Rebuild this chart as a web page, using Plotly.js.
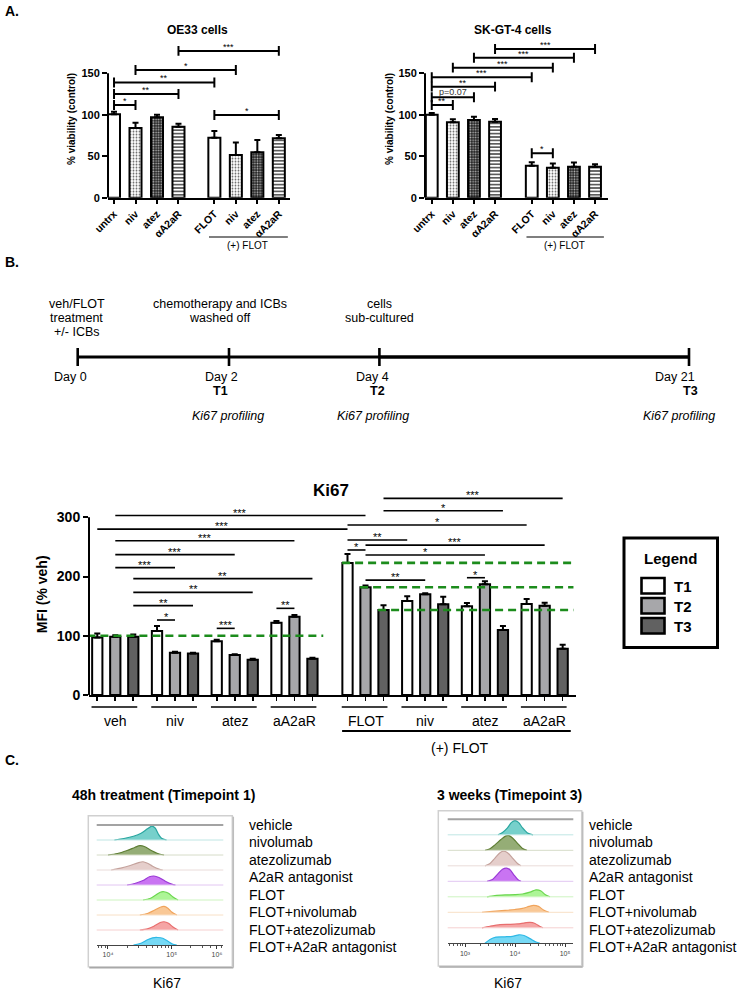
<!DOCTYPE html>
<html><head><meta charset="utf-8">
<script src="https://cdn.plot.ly/plotly-3.0.1.min.js"></script>
<style>html,body{margin:0;padding:0;background:#fff}#chart{width:749px;height:993px}</style>
</head><body><div id="chart"></div>
<script>
// ================= DATA =================
// Panel A: viability
const aCategories = ['untrx', 'niv', 'atez', 'αA2aR', 'FLOT', 'niv', 'atez', 'αA2aR'];
const oe33Values = [100.5, 84, 97, 85.5, 72.4, 51.5, 54.7, 71.6];
const oe33Errors = [3, 6.5, 3, 3.7, 8, 15, 15, 4];
const skgt4Values = [100, 90.9, 93.7, 91.7, 38.6, 36.2, 37.4, 37.4];
const skgt4Errors = [2, 3.6, 4, 3.2, 4, 5, 5, 3];
const oe33SigFrom = [0, 0, 0, 1, 3, 4];
const oe33SigTo = [1, 3, 4, 5, 7, 7];
const oe33SigY = [111.8, 125, 139, 154, 177, 99.7];
const oe33SigText = ['*', '**', '**', '*', '***', '*'];
const skgt4SigFrom = [0, 0, 0, 0, 1, 2, 3, 4];
const skgt4SigTo = [1, 2, 3, 4, 5, 6, 7, 5];
const skgt4SigY = [111.8, 121, 133.9, 145.2, 156.8, 168.8, 179.3, 53.5];
const skgt4SigText = ['**', 'p=0.07', '**', '***', '***', '***', '***', '*'];

// Panel B: timeline
const timelineDays = ['Day 0', 'Day 2', 'Day 4', 'Day 21'];
const timelinePoints = ['', 'T1', 'T2', 'T3'];
const timelineProfiling = ['', 'Ki67 profiling', 'Ki67 profiling', 'Ki67 profiling'];
const timelineEvents = [['veh/FLOT', 'treatment', '+/- ICBs'], ['chemotherapy and ICBs', 'washed off'], ['cells', 'sub-cultured'], []];

// Panel B: Ki67 MFI
const ki67Groups = ['veh', 'niv', 'atez', 'aA2aR', 'FLOT', 'niv', 'atez', 'aA2aR'];
const timepoints = ['T1', 'T2', 'T3'];
const ki67T1 = [97, 108, 90.6, 122, 223, 158.7, 150, 153.6];
const ki67T1Err = [7, 8.5, 2.8, 3, 15, 8, 5.3, 8.4];
const ki67T2 = [98.5, 71.5, 67.5, 132, 181.8, 170, 186.8, 150.8];
const ki67T2Err = [2.2, 1.5, 1.5, 3, 3.2, 1.6, 5.2, 5.1];
const ki67T3 = [98.5, 70, 59.6, 61.3, 143.5, 153, 109.7, 78];
const ki67T3Err = [3.5, 1.5, 1.7, 1.7, 7.9, 13, 6.8, 7];
const ki67RefY = [100, 223, 181.8, 143.5];
const ki67RefGroup = [0, 4, 4, 4];
const ki67RefTime = [0, 0, 1, 2];
const ki67SigFromGroup = [0, 0, 0, 0, 0, 0, 0, 0, 1, 2, 3, 4, 4, 4, 4, 4, 4, 4, 4, 6];
const ki67SigFromTime  = [1, 0, 1, 1, 1, 2, 2, 2, 0, 0, 0, 2, 2, 0, 0, 0, 1, 1, 1, 0];
const ki67SigToGroup   = [4, 4, 3, 2, 1, 3, 2, 1, 1, 2, 3, 7, 6, 7, 5, 4, 7, 6, 5, 6];
const ki67SigToTime    = [1, 0, 1, 1, 1, 2, 2, 2, 1, 1, 1, 2, 2, 0, 0, 1, 1, 1, 1, 1];
const ki67SigY = [303, 280, 260.5, 237, 215, 196.4, 173.3, 150.8, 126.6, 112.5, 146.3, 332, 311, 287, 261.7, 244.8, 253, 236.3, 194, 198];
const ki67SigText = ['***', '***', '***', '***', '***', '**', '**', '**', '*', '***', '**', '***', '*', '*', '**', '*', '***', '*', '**', '*'];

// Panel C: Ki67 histograms (x = log10 intensity, h = height as fraction of a row)
const histLabels = ['vehicle', 'nivolumab', 'atezolizumab', 'A2aR antagonist', 'FLOT', 'FLOT+nivolumab', 'FLOT+atezolizumab', 'FLOT+A2aR antagonist'];
const histLine = ['#2aa6a0', '#5e7e34', '#c4a29c', '#9a3ad6', '#6bd64f', '#f0a45c', '#e86e6e', '#2fb9e6'];
const histFill = ['rgba(84,196,190,0.8)', 'rgba(122,152,84,0.8)', 'rgba(224,198,194,0.85)', 'rgba(192,92,240,0.85)', 'rgba(146,242,116,0.75)', 'rgba(248,186,124,0.8)', 'rgba(242,142,142,0.8)', 'rgba(84,208,242,0.8)'];
const histBase = ['#bfe6e4', '#d6dcc8', '#eadcda', '#e2c6f2', '#cdf4c0', '#f8e0c6', '#f6d0d0', '#c4ecf8'];
const t1X = [
  [4.10, 4.25, 4.40, 4.52, 4.62, 4.69, 4.74, 4.79, 4.84, 4.92],
  [4.00, 4.15, 4.30, 4.42, 4.50, 4.58, 4.68, 4.78, 4.88],
  [4.05, 4.20, 4.35, 4.47, 4.55, 4.62, 4.70, 4.80, 4.86],
  [4.30, 4.42, 4.55, 4.65, 4.72, 4.80, 4.90, 5.00, 5.06],
  [4.55, 4.66, 4.74, 4.82, 4.88, 4.95, 5.02, 5.10],
  [4.50, 4.62, 4.72, 4.82, 4.88, 4.94, 5.00, 5.08],
  [4.50, 4.62, 4.72, 4.82, 4.88, 4.95, 5.02, 5.10],
  [4.40, 4.52, 4.62, 4.70, 4.78, 4.86, 4.94, 5.02, 5.08]
];
const t1H = [
  [0, 0.10, 0.25, 0.45, 0.75, 0.93, 0.80, 0.40, 0.12, 0],
  [0, 0.10, 0.30, 0.50, 0.62, 0.55, 0.30, 0.10, 0],
  [0, 0.12, 0.30, 0.48, 0.55, 0.45, 0.25, 0.06, 0],
  [0, 0.10, 0.30, 0.55, 0.60, 0.50, 0.25, 0.06, 0],
  [0, 0.10, 0.30, 0.52, 0.55, 0.45, 0.20, 0],
  [0, 0.10, 0.30, 0.52, 0.57, 0.45, 0.20, 0],
  [0, 0.08, 0.25, 0.50, 0.55, 0.45, 0.20, 0],
  [0, 0.12, 0.35, 0.48, 0.50, 0.45, 0.25, 0.05, 0]
];
const t3X = [
  [3.66, 3.75, 3.85, 3.93, 4.00, 4.07, 4.15, 4.25, 4.36],
  [3.40, 3.50, 3.60, 3.72, 3.82, 3.88, 3.95, 4.05, 4.15, 4.24],
  [3.40, 3.50, 3.60, 3.70, 3.77, 3.85, 3.95, 4.05, 4.12],
  [3.44, 3.55, 3.65, 3.75, 3.83, 3.90, 3.98, 4.06, 4.12],
  [3.44, 3.60, 3.80, 4.00, 4.15, 4.30, 4.42, 4.52, 4.60, 4.70],
  [3.34, 3.55, 3.80, 4.00, 4.15, 4.28, 4.37, 4.47, 4.57, 4.68],
  [3.34, 3.50, 3.70, 3.90, 4.05, 4.20, 4.30, 4.40, 4.50, 4.56],
  [3.40, 3.50, 3.62, 3.80, 3.95, 4.08, 4.18, 4.30, 4.42, 4.50]
];
const t3H = [
  [0, 0.15, 0.45, 0.80, 0.92, 0.80, 0.45, 0.12, 0],
  [0, 0.10, 0.35, 0.70, 0.93, 0.95, 0.80, 0.45, 0.12, 0],
  [0, 0.15, 0.50, 0.85, 0.95, 0.85, 0.50, 0.15, 0],
  [0, 0.12, 0.45, 0.78, 0.85, 0.75, 0.40, 0.10, 0],
  [0, 0.08, 0.12, 0.14, 0.18, 0.30, 0.45, 0.38, 0.15, 0],
  [0, 0.06, 0.12, 0.18, 0.25, 0.38, 0.45, 0.38, 0.15, 0],
  [0, 0.10, 0.20, 0.22, 0.25, 0.32, 0.35, 0.28, 0.08, 0],
  [0, 0.25, 0.40, 0.42, 0.45, 0.55, 0.50, 0.30, 0.08, 0]
];
const t1TickText = ['10⁴', '10⁵', '10⁶'];
const t3TickText = ['10³', '10⁴', '10⁵'];

// ================= DRAWING =================
const W = 749, H = 993;
const FONT = 'Liberation Sans, Arial, Helvetica, sans-serif';
const PX = x => x / W;
const PY = y => 1 - y / H;
const traces = [], shapes = [], annotations = [];
function ann(o, font) {
  annotations.push(Object.assign({showarrow: false, xanchor: 'center', yanchor: 'middle',
    font: Object.assign({family: FONT, size: 12, color: '#000'}, font || {})}, o));
}
function pline(x0, y0, x1, y1, w, c) {
  shapes.push({type: 'line', xref: 'paper', yref: 'paper', x0: PX(x0), y0: PY(y0), x1: PX(x1), y1: PY(y1),
    line: {color: c || '#000', width: w}});
}

// ---------- Panel A ----------
function panelA(xid, yid, values, errors, gapShift, sFrom, sTo, sY, sText) {
  const pos = i => i + (i >= 4 ? gapShift : 0);
  const styles = [
    null,
    {shape: '.', fgcolor: '#6a6a6a', bgcolor: '#ffffff', size: 3, solidity: 0.3},
    {shape: '.', fgcolor: '#b8b8b8', bgcolor: '#202020', size: 2.6, solidity: 0.35},
    {shape: '-', fgcolor: '#4a4a4a', bgcolor: '#ffffff', size: 3.4, solidity: 0.45}
  ];
  for (let p = 0; p < 4; p++) {
    const idx = [p, p + 4];
    const marker = {color: '#ffffff', line: {color: '#000', width: 2}};
    if (styles[p]) marker.pattern = Object.assign({fillmode: 'replace'}, styles[p]);
    traces.push({type: 'bar', xaxis: xid, yaxis: yid, x: idx.map(pos), y: idx.map(i => values[i]),
      width: 0.56, marker: marker, name: aCategories[p],
      error_y: {type: 'data', symmetric: false, array: idx.map(i => errors[i]), arrayminus: [0, 0],
        color: '#000', thickness: 2, width: 3},
      hoverinfo: 'skip', showlegend: false});
  }
  for (let k = 0; k < sFrom.length; k++) {
    const xa = pos(sFrom[k]), xb = pos(sTo[k]), y = sY[k];
    const common = {xref: xid, yref: yid, line: {color: '#000', width: 2}};
    shapes.push(Object.assign({type: 'line', x0: xa, x1: xb, y0: y, y1: y}, common));
    shapes.push(Object.assign({type: 'line', x0: xa, x1: xa, y0: y - 6, y1: y + 6}, common));
    shapes.push(Object.assign({type: 'line', x0: xb, x1: xb, y0: y - 6, y1: y + 6}, common));
    const isP = sText[k].indexOf('p') === 0;
    ann({xref: xid, yref: yid, x: (xa + xb) / 2, y: y, text: sText[k], yanchor: 'bottom', yshift: isP ? -2 : -3},
        {size: 9, color: isP ? '#333' : '#000'});
  }
  shapes.push({type: 'line', xref: xid + ' domain', yref: yid, x0: 0, x1: 0, y0: 0, y1: 150,
    line: {color: '#000', width: 2}});
  shapes.push({type: 'line', xref: xid, yref: 'paper', x0: pos(4) - 0.25, x1: pos(7) + 0.42, y0: PY(237), y1: PY(237),
    line: {color: '#000', width: 1.2}});
  ann({xref: xid, yref: 'paper', x: (pos(4) + pos(7)) / 2 + 0.05, y: PY(245), text: '(+) FLOT'}, {size: 10});
  return pos;
}
const posL = panelA('x', 'y', oe33Values, oe33Errors, 0.67, oe33SigFrom, oe33SigTo, oe33SigY, oe33SigText);
const posR = panelA('x2', 'y2', skgt4Values, skgt4Errors, 0.74, skgt4SigFrom, skgt4SigTo, skgt4SigY, skgt4SigText);

ann({xref: 'paper', yref: 'paper', x: PX(3), y: PY(11), text: '<b>A.</b>', xanchor: 'left'}, {size: 14});
ann({xref: 'paper', yref: 'paper', x: PX(197), y: PY(30), text: '<b>OE33 cells</b>'}, {size: 12});
ann({xref: 'paper', yref: 'paper', x: PX(513), y: PY(30), text: '<b>SK-GT-4 cells</b>'}, {size: 12});

// ---------- Panel B timeline ----------
ann({xref: 'paper', yref: 'paper', x: PX(3), y: PY(262), text: '<b>B.</b>', xanchor: 'left'}, {size: 14});
const tlTickX = [77.7, 229, 379.4, 689];
const tlY = 357;
pline(tlTickX[0], tlY, tlTickX[2], tlY, 3);
pline(tlTickX[2], tlY, tlTickX[3], tlY, 3.6);
tlTickX.forEach(x => pline(x, tlY - 9, x, tlY + 9, 2.6));
const tlDayX = [70, 221.5, 372, 674.5];
const tlTX = [0, 220, 378, 690];
const tlProfX = [0, 228, 373, 679];
const tlEventX = [76.7, 220, 379.4, 0];
for (let i = 0; i < 4; i++) {
  ann({xref: 'paper', yref: 'paper', x: PX(tlDayX[i]), y: PY(377.5), text: timelineDays[i]}, {size: 12.5});
  if (timelinePoints[i]) ann({xref: 'paper', yref: 'paper', x: PX(tlTX[i]), y: PY(391), text: '<b>' + timelinePoints[i] + '</b>'}, {size: 12.5});
  if (timelineProfiling[i]) ann({xref: 'paper', yref: 'paper', x: PX(tlProfX[i]), y: PY(416), text: '<i>' + timelineProfiling[i] + '</i>'}, {size: 12.5});
  timelineEvents[i].forEach((line, j) => ann({xref: 'paper', yref: 'paper', x: PX(tlEventX[i]), y: PY(304 + j * 13.8), text: line}, {size: 12.5}));
}

// ---------- Panel B Ki67 bars ----------
const GSTEP = 3.317, GGAP = 0.63;
const kpos = (g, t) => g * GSTEP + (g >= 4 ? GGAP : 0) + (t - 1);
const kVals = [ki67T1, ki67T2, ki67T3];
const kErrs = [ki67T1Err, ki67T2Err, ki67T3Err];
const kColors = ['#ffffff', '#a7a7aa', '#616161'];
for (let t = 0; t < 3; t++) {
  traces.push({type: 'bar', xaxis: 'x3', yaxis: 'y3', name: timepoints[t],
    x: ki67Groups.map((_, g) => kpos(g, t)), y: kVals[t], width: 0.57,
    marker: {color: kColors[t], line: {color: '#000', width: 2}},
    error_y: {type: 'data', symmetric: false, array: kErrs[t], arrayminus: kErrs[t].map(() => 0), color: '#000', thickness: 2, width: 3},
    hoverinfo: 'skip', showlegend: false});
}
for (let r = 0; r < ki67RefY.length; r++) {
  const x0 = kpos(ki67RefGroup[r], ki67RefTime[r]) - (ki67RefGroup[r] === 0 ? 0.55 : 0.3);
  const x1 = ki67RefGroup[r] === 0 ? kpos(3, 2) + 0.6 : kpos(7, 2) + 0.6;
  traces.push({type: 'scatter', mode: 'lines', xaxis: 'x3', yaxis: 'y3', x: [x0, x1], y: [ki67RefY[r], ki67RefY[r]],
    line: {color: '#1c8c1c', width: 2.6, dash: '8px,5px'}, hoverinfo: 'skip', showlegend: false});
}
for (let k = 0; k < ki67SigY.length; k++) {
  const xa = kpos(ki67SigFromGroup[k], ki67SigFromTime[k]);
  const xb = kpos(ki67SigToGroup[k], ki67SigToTime[k]);
  shapes.push({type: 'line', xref: 'x3', yref: 'y3', x0: xa, x1: xb, y0: ki67SigY[k], y1: ki67SigY[k], line: {color: '#000', width: 1.6}});
  ann({xref: 'x3', yref: 'y3', x: (xa + xb) / 2, y: ki67SigY[k], text: ki67SigText[k], yanchor: 'bottom', yshift: -5}, {size: 11});
}
shapes.push({type: 'line', xref: 'x3 domain', yref: 'y3', x0: 0, x1: 0, y0: 0, y1: 300, line: {color: '#000', width: 2}});
for (let g = 0; g < ki67Groups.length; g++) {
  shapes.push({type: 'line', xref: 'x3', yref: 'paper', x0: kpos(g, 0) - 0.32, x1: kpos(g, 2) + 0.22, y0: PY(707), y1: PY(707), line: {color: '#000', width: 1.6}});
  ann({xref: 'x3', yref: 'paper', x: kpos(g, 1), y: PY(721), text: ki67Groups[g]}, {size: 14});
}
shapes.push({type: 'line', xref: 'x3', yref: 'paper', x0: kpos(4, 0) - 0.3, x1: kpos(7, 2) + 0.45, y0: PY(731), y1: PY(731), line: {color: '#000', width: 2}});
ann({xref: 'x3', yref: 'paper', x: (kpos(4, 0) + kpos(7, 2)) / 2 + 0.3, y: PY(748), text: '(+) FLOT'}, {size: 14});
ann({xref: 'paper', yref: 'paper', x: PX(331), y: PY(490), text: '<b>Ki67</b>'}, {size: 17});

// manual legend
shapes.push({type: 'rect', xref: 'paper', yref: 'paper', x0: PX(624), x1: PX(717.5), y0: PY(538), y1: PY(647.5), line: {color: '#000', width: 3}, fillcolor: 'rgba(0,0,0,0)'});
ann({xref: 'paper', yref: 'paper', x: PX(670), y: PY(558), text: '<b>Legend</b>'}, {size: 15});
const legTop = [578, 598, 618];
for (let t = 0; t < 3; t++) {
  shapes.push({type: 'rect', xref: 'paper', yref: 'paper', x0: PX(641.5), x1: PX(664.5), y0: PY(legTop[t]), y1: PY(legTop[t] + 15.5),
    line: {color: '#000', width: 2.6}, fillcolor: kColors[t]});
  ann({xref: 'paper', yref: 'paper', x: PX(672), y: PY(legTop[t] + 8), text: '<b>' + timepoints[t] + '</b>', xanchor: 'left'}, {size: 15});
}

// ---------- Panel C histograms ----------
ann({xref: 'paper', yref: 'paper', x: PX(3), y: PY(760), text: '<b>C.</b>', xanchor: 'left'}, {size: 14});
ann({xref: 'paper', yref: 'paper', x: PX(163), y: PY(795), text: '<b>48h treatment (Timepoint 1)</b>'}, {size: 14});
ann({xref: 'paper', yref: 'paper', x: PX(510), y: PY(795), text: '<b>3 weeks (Timepoint 3)</b>'}, {size: 14});
function histPanel(xid, yid, X, Hh, box, labelX, kiX) {
  shapes.push({type: 'rect', xref: 'paper', yref: 'paper', x0: PX(box[0]), x1: PX(box[2]), y0: PY(box[1]), y1: PY(box[3]),
    line: {color: '#d0d0d0', width: 1.5}, fillcolor: 'rgba(0,0,0,0)'});
  pline(box[0] + 1, box[3] + 1, box[2] + 1, box[3] + 1, 1.5, '#a8a8a8');
  pline(box[2] + 1, box[1] + 1, box[2] + 1, box[3] + 1, 1.5, '#bdbdbd');
  shapes.push({type: 'line', xref: xid + ' domain', yref: yid, x0: 0, x1: 1, y0: 8, y1: 8, line: {color: '#a3a3a3', width: 2}});
  for (let i = 0; i < histLabels.length; i++) {
    const base = 7 - i;
    if (i < 7) shapes.push({type: 'line', xref: xid + ' domain', yref: yid, x0: 0, x1: 1, y0: base, y1: base, line: {color: histBase[i], width: 1}});
    traces.push({type: 'scatter', mode: 'lines', xaxis: xid, yaxis: yid, x: X[i], y: Hh[i].map(h => base + h),
      fill: 'toself', fillcolor: histFill[i], line: {color: histLine[i], width: 1.2, shape: 'spline', smoothing: 0.8},
      name: histLabels[i], hoverinfo: 'skip', showlegend: false});
    ann({xref: 'paper', yref: 'paper', x: PX(labelX), y: PY(825 + i * 17.45), text: histLabels[i], xanchor: 'left'}, {size: 14});
  }
  ann({xref: 'paper', yref: 'paper', x: PX(kiX), y: PY(982.5), text: 'Ki67'}, {size: 14});
}
histPanel('x4', 'y4', t1X, t1H, [88.3, 815.7, 232.3, 966.7], 246.5, 166.7);
histPanel('x5', 'y5', t3X, t3H, [438.3, 810.7, 581.7, 966], 587.3, 508);
function minorLogTicks(lo, hi) {
  const v = [];
  for (let d = 2; d <= 6; d++) for (let m = 2; m <= 9; m++) { const t = d + Math.log10(m); if (t > lo && t < hi) v.push(t); }
  return v;
}

// ================= LAYOUT =================
const axBase = {showgrid: false, zeroline: false, fixedrange: true};
const boldFont = s => ({family: FONT, size: s, color: '#000', weight: 'bold'});
const layout = {
  width: W, height: H, margin: {l: 0, r: 0, t: 0, b: 0, pad: 0},
  paper_bgcolor: '#ffffff', plot_bgcolor: 'rgba(0,0,0,0)', showlegend: false,
  barmode: 'overlay', font: {family: FONT, color: '#000'},
  xaxis: Object.assign({}, axBase, {domain: [PX(108), PX(290)], range: [-0.28, 8.19], anchor: 'y',
    tickmode: 'array', tickvals: aCategories.map((_, i) => posL(i)), ticktext: aCategories, tickangle: -45,
    tickfont: boldFont(10.5), ticks: 'outside', ticklen: 4, tickwidth: 2, tickcolor: '#000',
    showline: true, linewidth: 2, linecolor: '#000'}),
  yaxis: Object.assign({}, axBase, {domain: [PY(197.7), PY(40.1)], range: [0, 190], anchor: 'x',
    tickmode: 'array', tickvals: [0, 50, 100, 150], ticks: 'outside', ticklen: 5, tickwidth: 2, tickcolor: '#000',
    tickfont: boldFont(11), showline: false, title: {text: '% viability (control)', font: boldFont(10), standoff: 3}}),
  xaxis2: Object.assign({}, axBase, {domain: [PX(425), PX(607.7)], range: [-0.32, 8.34], anchor: 'y2',
    tickmode: 'array', tickvals: aCategories.map((_, i) => posR(i)), ticktext: aCategories, tickangle: -45,
    tickfont: boldFont(10.5), ticks: 'outside', ticklen: 4, tickwidth: 2, tickcolor: '#000',
    showline: true, linewidth: 2, linecolor: '#000'}),
  yaxis2: Object.assign({}, axBase, {domain: [PY(197.7), PY(40.1)], range: [0, 190], anchor: 'x2',
    tickmode: 'array', tickvals: [0, 50, 100, 150], ticks: 'outside', ticklen: 5, tickwidth: 2, tickcolor: '#000',
    tickfont: boldFont(11), showline: false, title: {text: '% viability (control)', font: boldFont(10), standoff: 2}}),
  xaxis3: Object.assign({}, axBase, {domain: [PX(89), PX(576)], range: [-1.46, 25.59], anchor: 'y3',
    tickmode: 'array', tickvals: [].concat(...ki67Groups.map((_, g) => [0, 1, 2].map(t => kpos(g, t)))),
    showticklabels: false, ticks: 'outside', ticklen: 4, tickwidth: 1.6, tickcolor: '#000',
    showline: true, linewidth: 2, linecolor: '#000'}),
  yaxis3: Object.assign({}, axBase, {domain: [PY(695), PY(493.6)], range: [0, 340], anchor: 'x3',
    tickmode: 'array', tickvals: [0, 100, 200, 300], ticks: 'outside', ticklen: 5, tickwidth: 2, tickcolor: '#000',
    tickfont: boldFont(14), showline: false, title: {text: 'MFI (% veh)', font: boldFont(14), standoff: 5}}),
  xaxis4: Object.assign({}, axBase, {domain: [PX(96.7), PX(223.3)], range: [3.823, 5.81], anchor: 'y4',
    tickmode: 'array', tickvals: [4, 5, 5.71], ticktext: t1TickText, tickfont: {family: FONT, size: 7, color: '#444'},
    ticks: 'outside', ticklen: 3, tickwidth: 1, tickcolor: '#333', showline: true, linewidth: 1, linecolor: '#444',
    minor: {tickmode: 'array', tickvals: minorLogTicks(3.823, 5.81), ticks: 'outside', ticklen: 2, tickwidth: 1, tickcolor: '#555'}}),
  yaxis4: Object.assign({}, axBase, {domain: [PY(945), PY(822.75)], range: [0, 8.15], anchor: 'x4', visible: false}),
  xaxis5: Object.assign({}, axBase, {domain: [PX(447.7), PX(573.3)], range: [2.654, 5.166], anchor: 'y5',
    tickmode: 'array', tickvals: [3, 4, 5], ticktext: t3TickText, tickfont: {family: FONT, size: 7, color: '#444'},
    ticks: 'outside', ticklen: 3, tickwidth: 1, tickcolor: '#333', showline: true, linewidth: 1, linecolor: '#444',
    minor: {tickmode: 'array', tickvals: minorLogTicks(2.654, 5.166), ticks: 'outside', ticklen: 2, tickwidth: 1, tickcolor: '#555'}}),
  yaxis5: Object.assign({}, axBase, {domain: [PY(943.3), PY(817)], range: [0, 8.15], anchor: 'x5', visible: false}),
  shapes: shapes,
  annotations: annotations
};
Plotly.newPlot('chart', traces, layout, {staticPlot: true, displayModeBar: false});
</script>
</body></html>
